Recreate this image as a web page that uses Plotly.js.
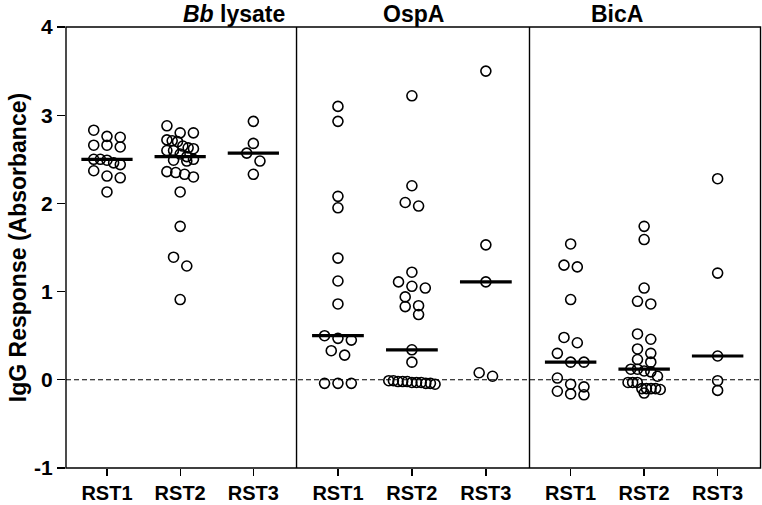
<!DOCTYPE html>
<html>
<head>
<meta charset="utf-8">
<script src="https://cdn.plot.ly/plotly-3.0.1.min.js"></script>
<style>html,body{margin:0;padding:0;background:#fff;}#chart{width:762px;height:505px;}</style>
</head>
<body>
<div id="chart"></div>
<script>
// ---- data ----
const panelTitles = ['<i>Bb</i> lysate', 'OspA', 'BicA'];
const groupLabels = ['RST1', 'RST2', 'RST3'];
const yTickValues = [-1, 0, 1, 2, 3, 4];

const bbRST1 = [2.83, 2.76, 2.75, 2.66, 2.66, 2.64, 2.50, 2.50, 2.49, 2.46, 2.44, 2.37, 2.31, 2.29, 2.13];
const bbRST2 = [2.88, 2.80, 2.80, 2.72, 2.71, 2.70, 2.65, 2.63, 2.62, 2.60, 2.60, 2.56, 2.53, 2.50, 2.49, 2.48,
                2.36, 2.35, 2.33, 2.30, 2.13, 1.74, 1.39, 1.29, 0.91];
const bbRST3 = [2.93, 2.68, 2.57, 2.48, 2.33];

const ospRST1 = [3.10, 2.93, 2.08, 1.95, 1.38, 1.12, 0.86, 0.50, 0.47, 0.45, 0.33, 0.28, -0.04, -0.04, -0.04];
const ospRST2 = [3.22, 2.20, 2.01, 1.97, 1.22, 1.11, 1.06, 1.04, 0.94, 0.84, 0.83, 0.74, 0.34, 0.20,
                 -0.01, -0.02, -0.02, -0.03, -0.03, -0.03, -0.04, -0.04, -0.05, -0.02, -0.01];
const ospRST3 = [3.50, 1.53, 1.11, 0.08, 0.04];

const bicRST1 = [1.54, 1.30, 1.28, 0.91, 0.48, 0.42, 0.30, 0.20, 0.20, 0.02, -0.05, -0.08, -0.13, -0.16, -0.17];
const bicRST2 = [1.74, 1.59, 1.04, 0.89, 0.86, 0.52, 0.46, 0.35, 0.30, 0.23, 0.20, 0.12, 0.12, 0.10, 0.09,
                 0.04, -0.03, -0.03, -0.03, -0.10, -0.10, -0.10, -0.10, -0.11, -0.15];
const bicRST3 = [2.28, 1.21, 0.27, -0.01, -0.12];

const panelData = [
  [bbRST1, bbRST2, bbRST3],
  [ospRST1, ospRST2, ospRST3],
  [bicRST1, bicRST2, bicRST3]
];

// ---- layout helpers ----
const PX_PER_X = 73.5;   // pixels per category unit
const ROW_BIN = 0.1;     // value band grouped into one swarm row

function median(arr) {
  const s = arr.slice().sort((a, b) => a - b);
  const n = s.length;
  return n % 2 ? s[(n - 1) / 2] : (s[n / 2 - 1] + s[n / 2]) / 2;
}

// simple swarm: group close values into rows, spread each row symmetrically
function swarmOffsets(values) {
  const idx = values.map((v, i) => i).sort((a, b) => values[b] - values[a]);
  const off = new Array(values.length).fill(0);
  let i = 0;
  while (i < idx.length) {
    const start = values[idx[i]];
    const row = [];
    while (i < idx.length && start - values[idx[i]] <= ROW_BIN + 1e-9) { row.push(idx[i]); i++; }
    const n = row.length;
    const step = n <= 3 ? 13.3 : Math.max(26.7 / (n - 1), 4.6);
    row.forEach((k, j) => { off[k] = (j - (n - 1) / 2) * step / PX_PER_X; });
  }
  return off;
}

const traces = [];
const axNames = ['x', 'x2', 'x3'];
panelData.forEach((groups, p) => {
  groups.forEach((vals, g) => {
    const offs = swarmOffsets(vals);
    traces.push({
      type: 'scatter', mode: 'markers', xaxis: axNames[p], yaxis: 'y',
      x: vals.map((v, k) => g + 1 + offs[k]), y: vals,
      marker: { symbol: 'circle-open', size: 10, color: '#000', line: { width: 1.6, color: '#000' } },
      hoverinfo: 'y', showlegend: false
    });
  });
  groups.forEach((vals, g) => {
    const m = median(vals);
    traces.push({
      type: 'scatter', mode: 'lines', xaxis: axNames[p], yaxis: 'y',
      x: [g + 1 - 0.35, g + 1 + 0.35], y: [m, m],
      line: { color: '#000', width: 3.2 }, hoverinfo: 'skip', showlegend: false
    });
  });
});

const FONT = '"Liberation Sans", Arial, Helvetica, sans-serif';
const domains = [[0, 0.3317], [0.3317, 0.6669], [0.6669, 1]];
function xax(d) {
  return {
    domain: d, range: [0.44, 3.59], fixedrange: true,
    tickmode: 'array', tickvals: [1, 2, 3], ticktext: groupLabels,
    ticks: 'outside', ticklen: 7, tickwidth: 1.3, tickcolor: '#000',
    showline: false, showgrid: false, zeroline: false, anchor: 'y',
    tickfont: { family: FONT, size: 20, color: '#000', weight: 'bold' }
  };
}

const frameLine = { color: '#000', width: 1.4 };
const shapes = [
  { type: 'line', xref: 'paper', yref: 'y', x0: 0, x1: 1, y0: 0, y1: 0,
    line: { color: '#000', width: 1.1, dash: '5px,3px' } },
  { type: 'rect', xref: 'paper', yref: 'paper', x0: 0, x1: 0.9993, y0: 0, y1: 1,
    line: frameLine, fillcolor: 'rgba(0,0,0,0)', layer: 'above' },
  { type: 'line', xref: 'paper', yref: 'paper', x0: domains[1][0], x1: domains[1][0], y0: 0, y1: 1, line: frameLine, layer: 'above' },
  { type: 'line', xref: 'paper', yref: 'paper', x0: domains[2][0], x1: domains[2][0], y0: 0, y1: 1, line: frameLine, layer: 'above' }
];

const layout = {
  width: 762, height: 505,
  margin: { l: 66, r: 1, t: 27, b: 37 },
  paper_bgcolor: '#fff', plot_bgcolor: '#fff',
  showlegend: false,
  xaxis: xax(domains[0]), xaxis2: xax(domains[1]), xaxis3: xax(domains[2]),
  yaxis: {
    range: [-1, 4], tickvals: yTickValues, ticktext: yTickValues.map(String),
    ticks: 'outside', ticklen: 8, tickwidth: 1.3, tickcolor: '#000',
    showline: false, showgrid: false, zeroline: false, fixedrange: true,
    tickfont: { family: FONT, size: 21, color: '#000', weight: 'bold' },
    title: { text: 'IgG Response (Absorbance)', standoff: 1,
             font: { family: FONT, size: 23, color: '#000', weight: 'bold' } }
  },
  shapes: shapes,
  annotations: panelTitles.map((t, p) => ({
    text: '<b>' + t + '</b>', xref: 'paper', yref: 'paper',
    x: (domains[p][0] + domains[p][1]) / 2, y: 1, yanchor: 'bottom', yshift: -2,
    showarrow: false, font: { family: FONT, size: 23, color: '#000' }
  }))
};

Plotly.newPlot('chart', traces, layout, { staticPlot: true, displayModeBar: false });
</script>
</body>
</html>
